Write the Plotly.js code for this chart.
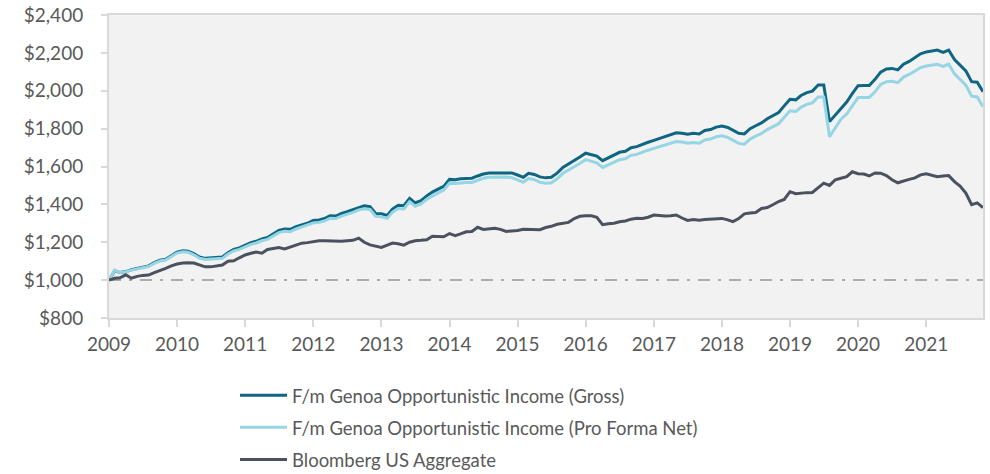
<!DOCTYPE html>
<html>
<head>
<meta charset="utf-8">
<script src="https://cdn.plot.ly/plotly-3.0.1.min.js"></script>
<style>
  html, body { margin: 0; padding: 0; background: #ffffff; }
  #chart { width: 990px; height: 474px; }
</style>
</head>
<body>
<div id="chart"></div>
<script>
// Series names
const seriesNames = [
  "F/m Genoa Opportunistic Income (Gross)",
  "F/m Genoa Opportunistic Income (Pro Forma Net)",
  "Bloomberg US Aggregate"
];

// Monthly growth of $1,000, Jan 2009 - Nov 2021
const gross = [
  1000,1050,1040,1045,1055,1062,1070,1075,1092,1105,1110,1128,
  1148,1155,1152,1140,1122,1115,1116,1120,1122,1145,1162,1170,
  1185,1198,1205,1218,1225,1245,1262,1270,1268,1282,1292,1300,
  1315,1318,1325,1340,1338,1352,1361,1372,1385,1392,1388,1352,
  1350,1342,1375,1395,1393,1432,1408,1420,1445,1465,1480,1495,
  1532,1530,1535,1536,1538,1550,1560,1566,1567,1567,1568,1566,
  1555,1543,1564,1558,1545,1540,1543,1565,1595,1612,1630,1650,
  1670,1662,1655,1631,1645,1660,1675,1680,1699,1705,1718,1728,
  1738,1748,1760,1768,1778,1776,1770,1775,1772,1790,1795,1808,
  1814,1806,1790,1775,1772,1800,1815,1830,1852,1870,1885,1920,
  1955,1952,1975,1990,1998,2030,2030,1837,1870,1905,1940,1985,
  2027,2028,2028,2060,2098,2115,2118,2110,2140,2155,2175,2195,
  2205,2210,2215,2203,2215,2165,2135,2105,2048,2045,1995
];

const net = [
  1000,1052,1040,1044,1053,1060,1068,1072,1089,1101,1106,1124,
  1143,1150,1147,1134,1116,1109,1110,1113,1115,1138,1154,1162,
  1176,1189,1196,1208,1215,1234,1251,1258,1256,1270,1280,1288,
  1302,1305,1312,1327,1325,1338,1347,1358,1371,1377,1373,1337,
  1334,1326,1359,1378,1376,1414,1390,1402,1427,1446,1461,1476,
  1512,1510,1514,1515,1516,1528,1538,1543,1544,1543,1544,1541,
  1530,1517,1537,1531,1517,1512,1514,1535,1564,1580,1597,1616,
  1636,1627,1619,1595,1608,1622,1636,1641,1659,1664,1677,1686,
  1696,1705,1716,1723,1732,1729,1723,1727,1723,1740,1745,1757,
  1762,1754,1737,1722,1718,1745,1760,1774,1795,1812,1826,1860,
  1894,1891,1913,1928,1936,1967,1967,1757,1808,1850,1877,1922,
  1964,1965,1965,1995,2033,2048,2050,2043,2072,2086,2104,2122,
  2131,2135,2140,2128,2140,2090,2060,2029,1971,1967,1916
];

const bbgAgg = [
  1000,1010,1012,1028,1010,1020,1025,1027,1040,1050,1062,1075,
  1085,1090,1092,1090,1080,1070,1070,1075,1080,1100,1102,1118,
  1133,1142,1148,1142,1162,1167,1172,1165,1175,1185,1195,1198,
  1205,1208,1208,1206,1204,1205,1208,1210,1222,1200,1186,1180,
  1173,1185,1196,1192,1185,1200,1208,1210,1213,1232,1232,1229,
  1246,1235,1244,1255,1257,1279,1268,1272,1274,1268,1257,1260,
  1262,1268,1268,1268,1266,1278,1284,1295,1302,1305,1325,1337,
  1340,1340,1332,1293,1298,1300,1308,1312,1322,1327,1326,1332,
  1344,1340,1339,1340,1344,1328,1315,1320,1316,1320,1321,1322,
  1326,1318,1309,1325,1350,1354,1357,1378,1383,1398,1415,1426,
  1467,1456,1460,1462,1463,1490,1512,1500,1530,1538,1546,1572,
  1562,1560,1550,1566,1565,1552,1530,1514,1525,1532,1540,1556,
  1562,1552,1546,1550,1552,1520,1497,1460,1398,1408,1383
];

const startYear = 2009;
const baseline = 1000;
const yTickVals = [800,1000,1200,1400,1600,1800,2000,2200,2400];
const yTickText = ["$800","$1,000","$1,200","$1,400","$1,600","$1,800","$2,000","$2,200","$2,400"];

// Month dates for x (one per data point)
const months = gross.map((_, i) => {
  const y = startYear + Math.floor(i / 12);
  const m = (i % 12) + 1;
  return y + "-" + (m < 10 ? "0" + m : m) + "-01";
});

const colors = ["#0f6682", "#96d5e3", "#4a5260"];
const FONT = "Lato, 'Noto Sans', sans-serif";
const TXT = "#595959";

const traces = [gross, net, bbgAgg].map((vals, k) => ({
  type: "scatter",
  mode: "lines",
  x: months,
  y: vals,
  name: seriesNames[k],
  legendgroup: "g" + k,
  line: { color: colors[k], width: 3, shape: "linear" },
  hoverinfo: "x+y+name"
}));

const layout = {
  width: 990,
  height: 474,
  autosize: false,
  margin: { l: 109, r: 7, t: 15, b: 156, pad: 0, autoexpand: false },
  paper_bgcolor: "#ffffff",
  plot_bgcolor: "#f2f2f2",
  font: { family: FONT, color: TXT, size: 18 },
  showlegend: true,
  legend: {
    orientation: "v",
    x: (235 - 109) / 874,
    xanchor: "left",
    y: -0.194,
    yanchor: "top",
    traceorder: "grouped",
    tracegroupgap: 5,
    itemwidth: 47,
    font: { family: FONT, color: TXT, size: 18.5 },
    bgcolor: "rgba(0,0,0,0)"
  },
  xaxis: {
    type: "date",
    range: [months[0], months[months.length - 1]],
    tick0: months[0],
    dtick: "M12",
    tickformat: "%Y",
    ticks: "outside",
    ticklen: 7,
    tickwidth: 2,
    tickcolor: "#d9d9d9",
    showline: true,
    linecolor: "#d9d9d9",
    linewidth: 2,
    mirror: true,
    showgrid: false,
    zeroline: false,
    ticklabelstandoff: 1,
    tickfont: { family: FONT, color: TXT, size: 19 }
  },
  yaxis: {
    range: [800, 2400],
    tickmode: "array",
    tickvals: yTickVals,
    ticktext: yTickText,
    ticks: "outside",
    ticklen: 6,
    tickwidth: 2,
    tickcolor: "#d9d9d9",
    showline: true,
    linecolor: "#d9d9d9",
    linewidth: 2,
    mirror: true,
    showgrid: false,
    zeroline: false,
    ticklabelstandoff: 14,
    tickfont: { family: FONT, color: TXT, size: 19 }
  },
  shapes: [{
    type: "line",
    xref: "paper",
    x0: 0,
    x1: 1,
    yref: "y",
    y0: baseline,
    y1: baseline,
    layer: "below",
    line: { color: "#ababab", width: 2, dash: "12px,8px,3px,8px" }
  }]
};

Plotly.newPlot("chart", traces, layout, { displayModeBar: false, staticPlot: true });
</script>
</body>
</html>
